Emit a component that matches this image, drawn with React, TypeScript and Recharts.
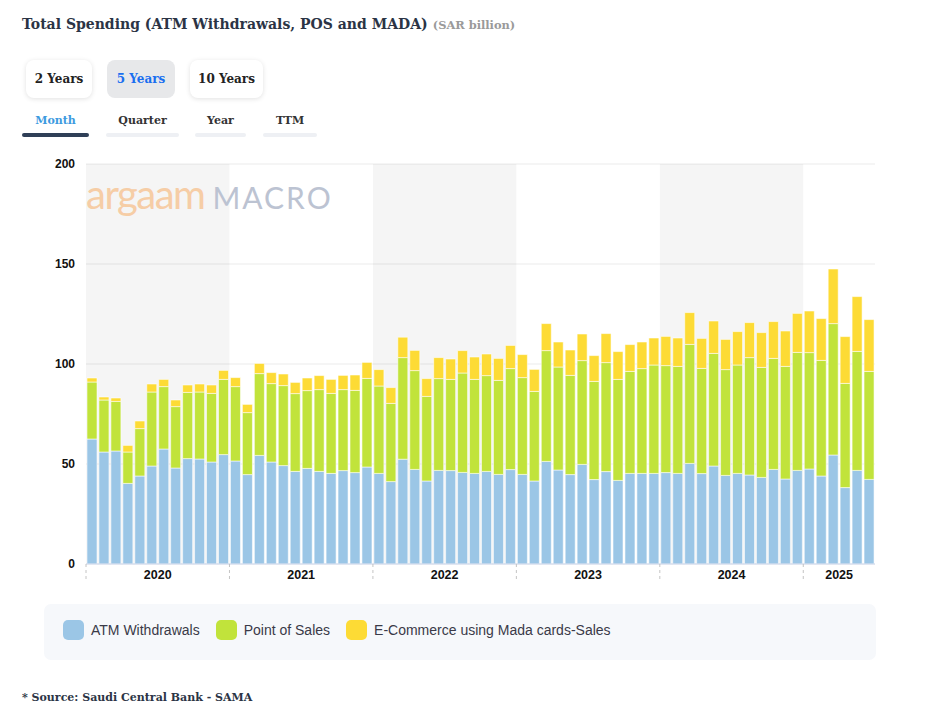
import { Bar, BarChart, CartesianGrid, ReferenceArea, XAxis, YAxis } from "recharts";

const months = [
  "2020-01", "2020-02", "2020-03", "2020-04", "2020-05", "2020-06", "2020-07", "2020-08", "2020-09", "2020-10", "2020-11", "2020-12",
  "2021-01", "2021-02", "2021-03", "2021-04", "2021-05", "2021-06", "2021-07", "2021-08", "2021-09", "2021-10", "2021-11", "2021-12",
  "2022-01", "2022-02", "2022-03", "2022-04", "2022-05", "2022-06", "2022-07", "2022-08", "2022-09", "2022-10", "2022-11", "2022-12",
  "2023-01", "2023-02", "2023-03", "2023-04", "2023-05", "2023-06", "2023-07", "2023-08", "2023-09", "2023-10", "2023-11", "2023-12",
  "2024-01", "2024-02", "2024-03", "2024-04", "2024-05", "2024-06", "2024-07", "2024-08", "2024-09", "2024-10", "2024-11", "2024-12",
  "2025-01", "2025-02", "2025-03", "2025-04", "2025-05", "2025-06",
];

// SAR billion
const atm = [
  62.5, 56, 56.5, 40.3, 44, 49, 57.5, 48, 52.7, 52.5, 51, 54.7,
  51.5, 44.7, 54.3, 51, 49.2, 46.3, 47.8, 46.3, 45.3, 46.7, 45.7, 48.5,
  45.3, 41.2, 52.4, 47.3, 41.5, 46.8, 46.7, 45.8, 45.3, 46.3, 44.8, 47.2,
  44.8, 41.5, 51.3, 47, 44.7, 49.8, 42.2, 46.2, 41.8, 45.3, 45.3, 45.3,
  45.7, 45.3, 50.3, 45.2, 49, 44.3, 45.3, 44.5, 43.3, 47.3, 42.5, 46.8,
  47.5, 44, 54.5, 38.2, 46.8, 42.3,
];
const pos = [
  28.5, 26, 24.8, 15.7, 23.7, 37, 31.2, 30.7, 33.1, 33.5, 34.3, 37.6,
  37.2, 31, 40.9, 39.2, 40, 38.9, 38.9, 40.9, 40, 40.5, 41.1, 44.3,
  43.7, 39.1, 50.8, 49.4, 42.3, 45.9, 45.6, 49.7, 47, 47.9, 47, 50.5,
  48.4, 44.8, 55.4, 51.5, 49.6, 51.9, 49.1, 54.5, 50.5, 51, 52.4, 54.2,
  53.5, 53.5, 59.5, 52.6, 56.3, 52.9, 54.2, 58.7, 55, 55.5, 56.3, 59,
  58.2, 57.8, 65.7, 52.1, 59.5, 54,
];
const ecom = [
  2, 1.5, 1.7, 3.3, 3.8, 4, 3.6, 3.3, 3.7, 4, 4.2, 4.5,
  4.5, 4.1, 5.1, 5.5, 5.8, 5.6, 6.3, 7, 7, 7.1, 7.7, 8,
  8.2, 7.9, 10.2, 10.1, 8.9, 10.5, 10.2, 11.2, 11.2, 10.8, 11, 11.6,
  11.5, 11, 13.5, 12.5, 12.7, 13.3, 12.9, 14.5, 13.9, 13.4, 13.3, 13.5,
  14.6, 14.2, 15.9, 15, 16.2, 15.1, 16.7, 17.5, 17.4, 18.4, 17.7, 19.5,
  20.8, 20.9, 27.3, 23.4, 27.4, 25.9,
];

const yTicks = [0, 50, 100, 150, 200];
const shadedYears = ["2020", "2022", "2024"];

const CHART_W = 938;
const CHART_H = 450;
const MARGIN = { top: 14, right: 63, bottom: 6, left: 26 };
const Y_AXIS_W = 60;
const BAND = (CHART_W - MARGIN.left - MARGIN.right - Y_AXIS_W) / months.length;

const data = months.map((month, i) => ({ month, atm: atm[i], pos: pos[i], ecom: ecom[i] }));

const serif = "'DejaVu Serif', 'Liberation Serif', serif";
const sans = "'Liberation Sans', Arial, sans-serif";

const YearTick = (props: any) => {
  const { x, y, payload } = props;
  const label = String(payload.value);
  if (!label.endsWith("-01")) return <g />;
  const year = label.slice(0, 4);
  const count = months.filter((m) => m.startsWith(year)).length;
  const start = x - BAND / 2;
  return (
    <g>
      <line x1={start} x2={start} y1={y} y2={y + 17} stroke="#c4c4c4" strokeDasharray="3 3" />
      <text
        x={start + (count * BAND) / 2}
        y={y + 15}
        textAnchor="middle"
        fontFamily={sans}
        fontWeight="bold"
        fontSize={12.5}
        fill="#111"
      >
        {year}
      </text>
    </g>
  );
};

const buttons = [
  { label: "2 Years", left: 26, width: 66, active: false },
  { label: "5 Years", left: 107, width: 68, active: true },
  { label: "10 Years", left: 190, width: 73, active: false },
];

const tabs = [
  { label: "Month", left: 22, width: 67, active: true },
  { label: "Quarter", left: 106, width: 73, active: false },
  { label: "Year", left: 195, width: 51, active: false },
  { label: "TTM", left: 263, width: 54, active: false },
];

const legendItems = [
  { label: "ATM Withdrawals", color: "#9bc6e6" },
  { label: "Point of Sales", color: "#c1e33b" },
  { label: "E-Commerce using Mada cards-Sales", color: "#fddb35" },
];

export default function App() {
  return (
    <div style={{ position: "absolute", left: 0, top: 0, width: 938, height: 712, background: "#fff", overflow: "hidden" }}>
      <div style={{ position: "absolute", left: 22, top: 14, fontFamily: serif, whiteSpace: "nowrap", color: "#2b3445" }}>
        <span style={{ fontWeight: "bold", fontSize: 14 }}>Total Spending (ATM Withdrawals, POS and MADA)</span>{" "}
        <span style={{ fontWeight: "bold", fontSize: 11.4, color: "#9a9a9a" }}>(SAR billion)</span>
      </div>

      {buttons.map((b) => (
        <div
          key={b.label}
          style={{
            position: "absolute",
            left: b.left,
            top: 60,
            width: b.width,
            height: 38,
            borderRadius: 8,
            background: b.active ? "#e7e8ea" : "#fff",
            boxShadow: b.active ? "none" : "0 1px 5px rgba(0,0,0,0.12)",
            display: "flex",
            alignItems: "center",
            justifyContent: "center",
            fontFamily: serif,
            fontWeight: "bold",
            fontSize: 12,
            color: b.active ? "#1a6ff0" : "#222",
          }}
        >
          {b.label}
        </div>
      ))}

      {tabs.map((t) => (
        <div key={t.label}>
          <div
            style={{
              position: "absolute",
              left: t.left,
              top: 114,
              width: t.width,
              textAlign: "center",
              fontFamily: serif,
              fontWeight: "bold",
              fontSize: 11,
              color: t.active ? "#3d9ae0" : "#333",
            }}
          >
            {t.label}
          </div>
          <div
            style={{
              position: "absolute",
              left: t.left,
              top: 133,
              width: t.width,
              height: 4,
              borderRadius: 2,
              background: t.active ? "#2f3f57" : "#eef0f4",
            }}
          />
        </div>
      ))}

      <div style={{ position: "absolute", left: 0, top: 150 }}>
        <BarChart width={CHART_W} height={CHART_H} data={data} margin={MARGIN} barCategoryGap={1}>
          <CartesianGrid vertical={false} stroke="#ebebeb" />
          {shadedYears.map((yr) => (
            <ReferenceArea
              key={yr}
              x1={`${yr}-01`}
              x2={`${yr}-12`}
              y1={0}
              y2={200}
              fill="#000"
              fillOpacity={0.04}
              stroke="none"
            />
          ))}
          <XAxis
            dataKey="month"
            interval={0}
            tickLine={false}
            tickSize={0}
            tickMargin={0}
            height={30}
            axisLine={{ stroke: "#ccd6eb" }}
            tick={<YearTick />}
          />
          <YAxis
            width={Y_AXIS_W}
            domain={[0, 200]}
            ticks={yTicks}
            axisLine={false}
            tickLine={false}
            tickSize={0}
            tickMargin={11}
            tick={{ fontFamily: sans, fontWeight: "bold", fontSize: 12, fill: "#111" }}
          />
          <Bar dataKey="atm" stackId="s" fill="#9bc6e6" stroke="#ffffff" strokeOpacity={0.55} isAnimationActive={false} />
          <Bar dataKey="pos" stackId="s" fill="#c1e33b" stroke="#ffffff" strokeOpacity={0.55} isAnimationActive={false} />
          <Bar dataKey="ecom" stackId="s" fill="#fddb35" stroke="#ffffff" strokeOpacity={0.55} isAnimationActive={false} />
        </BarChart>
      </div>

      <div style={{ position: "absolute", left: 86, top: 170, whiteSpace: "nowrap", pointerEvents: "none" }}>
        <span style={{ fontFamily: "Lato, sans-serif", fontSize: 40, color: "#f6cda6", letterSpacing: -1.5 }}>argaam</span>
        <span style={{ fontFamily: "Lato, sans-serif", fontSize: 30, color: "#bcc3d2", letterSpacing: 2, marginLeft: 8 }}>MACRO</span>
      </div>

      <div
        style={{
          position: "absolute",
          left: 44,
          top: 604,
          width: 832,
          height: 56,
          borderRadius: 7,
          background: "#f6f8fb",
          display: "flex",
          alignItems: "center",
          paddingLeft: 19,
          paddingBottom: 4,
          boxSizing: "border-box",
        }}
      >
        {legendItems.map((item) => (
          <div key={item.label} style={{ display: "flex", alignItems: "center", marginRight: 16 }}>
            <span style={{ width: 21, height: 20, borderRadius: 5, background: item.color, display: "inline-block" }} />
            <span style={{ fontFamily: sans, fontSize: 14, color: "#3a3a48", marginLeft: 7 }}>{item.label}</span>
          </div>
        ))}
      </div>

      <div
        style={{
          position: "absolute",
          left: 22,
          top: 691,
          fontFamily: serif,
          fontWeight: "bold",
          fontSize: 11,
          color: "#2b3445",
          whiteSpace: "nowrap",
        }}
      >
        * Source: Saudi Central Bank - SAMA
      </div>
    </div>
  );
}
